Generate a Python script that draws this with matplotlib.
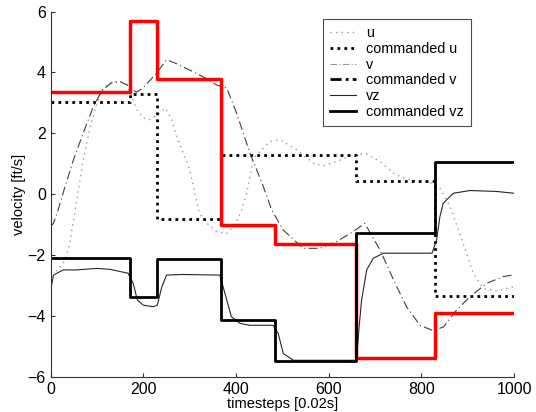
import matplotlib
matplotlib.use("Agg")
import matplotlib.pyplot as plt
from matplotlib.lines import Line2D
import numpy as np

plt.rcParams['font.family'] = ['Liberation Sans', 'DejaVu Sans']
plt.rcParams['font.size'] = 10

# Command switch times (timesteps) and commanded levels [ft/s]
switch_t = [0, 172, 229, 368, 484, 660, 829, 1000]
cmd_u = [3.02, 3.28, -0.82, 1.28, 1.28, 0.43, -3.34]
cmd_v = [3.35, 5.69, 3.80, -1.01, -1.64, -5.37, -3.92]
cmd_vz = [-2.10, -3.37, -2.14, -4.13, -5.47, -1.29, 1.07]

# Measured responses
u_t = [0, 15, 30, 40, 52, 70, 85, 96, 110, 125, 150, 165, 185, 200, 214, 230,
       247, 260, 272, 300, 319, 329, 358, 380, 398, 412, 423, 437, 445, 473,
       495, 531, 567, 588, 617, 650, 682, 711, 740, 761, 797, 826, 840, 855,
       862, 890, 912, 934, 963, 995, 1000]
u_val = [-2.6, -2.5, -2.2, -1.7, -0.6, 1.1, 2.2, 2.8, 3.4, 3.65, 3.7, 3.6,
         2.8, 2.5, 2.45, 2.6, 2.83, 2.5, 1.9, 0.8, -0.5, -0.85, -1.23, -1.29,
         -1.01, -0.52, 0.03, 1.13, 1.3, 1.73, 1.79, 1.46, 1.02, 0.93, 1.07,
         1.29, 1.32, 1.07, 0.69, 0.53, 0.42, 0.36, 0.2, -0.2, -0.41, -1.61,
         -2.6, -3.1, -3.18, -3.06, -3.04]

v_t = [0, 6, 16, 30, 49, 70, 90, 110, 130, 150, 170, 185, 200, 229, 250, 270,
       300, 330, 358, 380, 401, 430, 459, 477, 502, 545, 581, 617, 653, 678,
       711, 740, 768, 797, 826, 848, 876, 905, 941, 977, 1000]
v_val = [-1.05, -0.96, -0.52, 0.2, 1.13, 2.0, 2.8, 3.4, 3.65, 3.7, 3.55, 3.35,
         3.5, 3.99, 4.42, 4.3, 4.08, 3.85, 3.59, 3.49, 2.67, 1.35, 0.25, -0.52,
         -1.18, -1.78, -1.78, -1.56, -1.23, -0.96, -1.84, -2.82, -3.7, -4.31,
         -4.49, -4.36, -3.81, -3.37, -2.93, -2.71, -2.65]

vz_t = [0, 6, 27, 56, 99, 128, 167, 178, 187, 200, 221, 230, 240, 250, 286,
        365, 376, 390, 409, 430, 480, 491, 502, 524, 660, 666, 671, 682, 696,
        718, 823, 833, 840, 847, 869, 905, 962, 1000]
vz_val = [-3.15, -2.66, -2.49, -2.49, -2.44, -2.47, -2.6, -2.93, -3.48, -3.65,
          -3.7, -3.65, -3.04, -2.66, -2.64, -2.66, -3.26, -4.03, -4.25, -4.31,
          -4.31, -4.58, -5.24, -5.46, -5.46, -4.3, -3.48, -2.49, -2.11, -1.94,
          -1.94, -1.5, -0.74, -0.3, 0.03, 0.12, 0.09, 0.03]

fig = plt.figure(figsize=(5.36, 4.12), dpi=100)
ax = fig.add_axes([0.0946, 0.0857, 0.8644, 0.886])

def stairs(levels):
    return list(levels) + [levels[-1]]

l_u, = ax.plot(u_t, u_val, color='0.6', linestyle=(0, (1, 3)), lw=1.0)
l_cu, = ax.step(switch_t, stairs(cmd_u), where='post', color='black',
                linestyle=(0, (1, 1.5)), lw=2.0)
l_v, = ax.plot(v_t, v_val, color='0.25', linestyle=(0, (8, 3, 1, 3)), lw=0.8)
ax.step(switch_t, stairs(cmd_v), where='post', color='red', lw=2.5)
l_vz, = ax.plot(vz_t, vz_val, color='0.15', lw=0.8)
l_cvz, = ax.step(switch_t, stairs(cmd_vz), where='post', color='black', lw=2.0)

h_cv = Line2D([], [], color='black', linestyle=(0, (4, 1.5, 1, 1.5)), lw=2.0)
h_v = Line2D([], [], color='0.6', linestyle=(0, (6, 2, 1, 2)), lw=0.8)

leg = ax.legend([l_u, l_cu, h_v, h_cv, l_vz, l_cvz],
                ['u', 'commanded u', 'v', 'commanded v', 'vz', 'commanded vz'],
                loc='upper right', bbox_to_anchor=(0.907, 0.98),
                borderaxespad=0, fancybox=False, framealpha=1,
                edgecolor='0.3', handlelength=1.8, handletextpad=0.7,
                labelspacing=0.12, borderpad=0.5, fontsize=10.4)
leg.get_frame().set_linewidth(0.8)

ax.set_xlim(0, 1000)
ax.set_ylim(-6, 6)
ax.set_xticks(np.arange(0, 1001, 200))
ax.set_yticks(np.arange(-6, 7, 2))
ax.spines['top'].set_visible(False)
ax.spines['right'].set_visible(False)
for s in ('left', 'bottom'):
    ax.spines[s].set_color('0.2')
    ax.spines[s].set_linewidth(0.8)
ax.tick_params(direction='in', length=3, width=0.8, colors='0.2',
               labelcolor='black', labelsize=11.5)
ax.set_xlabel('timesteps [0.02s]', labelpad=0, fontsize=10.5)
ax.set_ylabel('velocity [ft/s]', labelpad=1, fontsize=10.5)

fig.savefig('out.png', dpi=100)
